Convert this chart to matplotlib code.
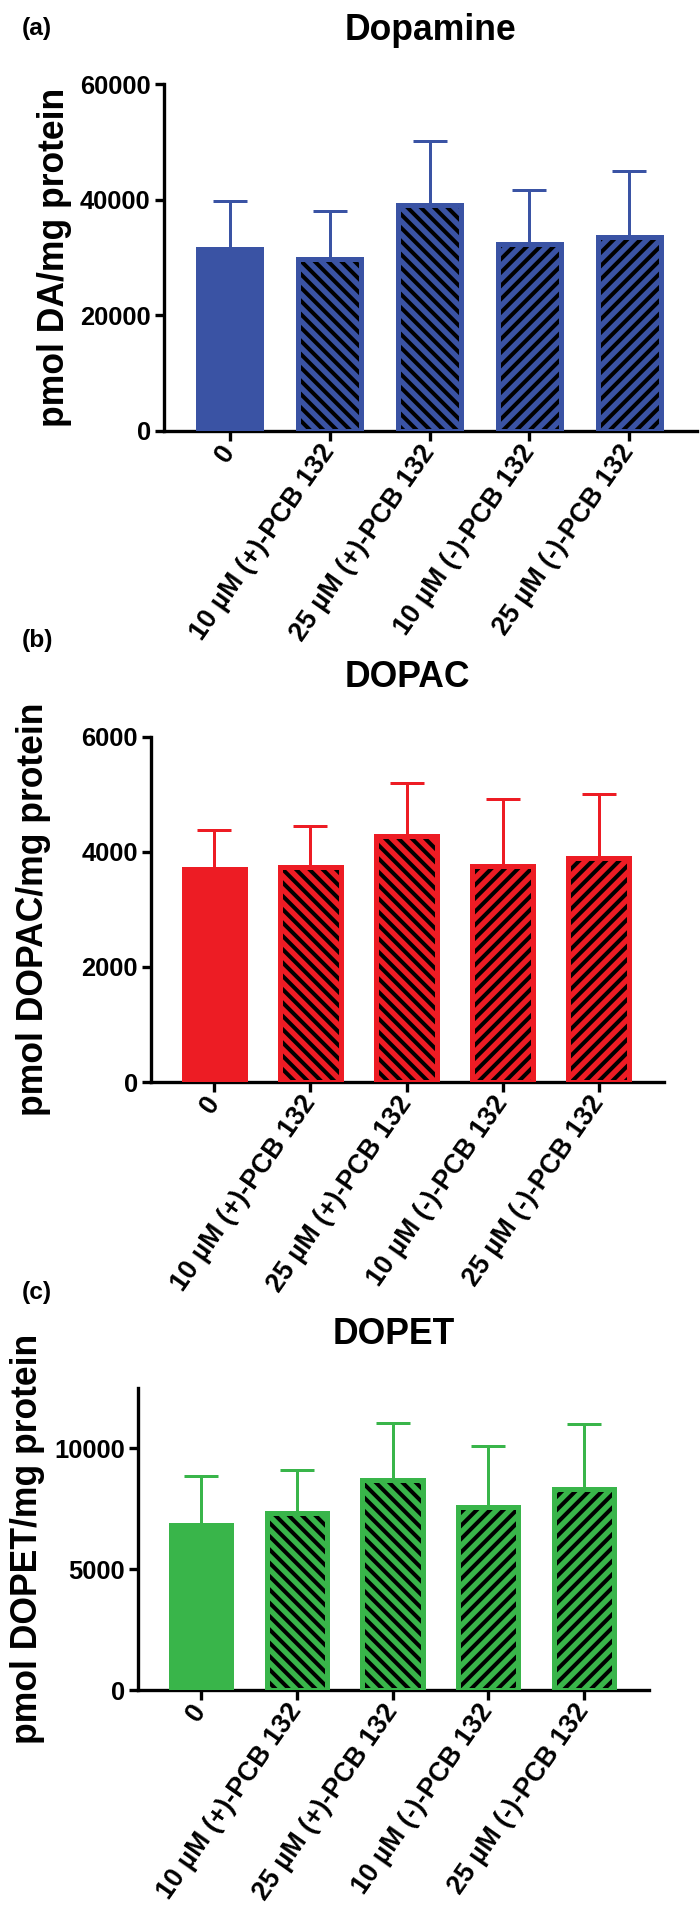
import numpy as np
import matplotlib
matplotlib.use("Agg")
import matplotlib.pyplot as plt

# groups and hatching (solid control, "\" for (+), "/" for (-))
groups = ["0", "10 \u00b5M (+)-PCB 132", "25 \u00b5M (+)-PCB 132",
          "10 \u00b5M (-)-PCB 132", "25 \u00b5M (-)-PCB 132"]
hatches = ["", "\\\\", "\\\\", "//", "//"]

# panel (a) dopamine, pmol/mg protein
da_mean = [31400, 29800, 39100, 32300, 33600]
da_err = [8350, 8200, 11000, 9350, 11300]

# panel (b) DOPAC
dopac_mean = [3710, 3745, 4285, 3755, 3890]
dopac_err = [680, 715, 915, 1175, 1120]

# panel (c) DOPET
dopet_mean = [6850, 7330, 8710, 7570, 8300]
dopet_err = [2010, 1790, 2350, 2510, 2690]

plt.rcParams["font.family"] = ["Liberation Sans", "DejaVu Sans"]
plt.rcParams["font.weight"] = "bold"
plt.rcParams["hatch.linewidth"] = 3.6

W, H = 700, 1932
DPI = 80
fig = plt.figure(figsize=(W / DPI, H / DPI), dpi=DPI)


def rect(left, right, top, bottom):
    return [left / W, 1 - bottom / H, (right - left) / W, (bottom - top) / H]


def panel(box, letter, letter_y, title, title_y, ylabel, ylabel_x,
          means, errs, color, ymax, yticks):
    ax = fig.add_axes(rect(*box))
    x = np.arange(len(groups))
    ax.errorbar(x, means, yerr=[np.zeros(len(means)), errs], fmt="none",
                ecolor=color, elinewidth=2.7, capsize=15, capthick=2.7, zorder=1)
    for i, (m, h) in enumerate(zip(means, hatches)):
        ax.bar(i, m, width=0.63, color=color,
               edgecolor="black" if h else color, linewidth=0, hatch=h, zorder=2)
        ax.bar(i, m, width=0.63, facecolor="none", edgecolor=color,
               linewidth=4.5, zorder=3)

    ax.set_xlim(-0.66, 4.68)
    ax.set_ylim(0, ymax)
    ax.set_yticks(yticks, [str(t) for t in yticks])
    ax.set_xticks(x, groups, rotation=55, ha="right", va="center",
                  rotation_mode="anchor")
    for s in ["top", "right"]:
        ax.spines[s].set_visible(False)
    for s in ["left", "bottom"]:
        ax.spines[s].set_linewidth(3)
    ax.tick_params(axis="y", width=3, length=8, pad=4, labelsize=23)
    ax.tick_params(axis="x", width=3, length=9, pad=6, labelsize=24)

    left, right, top, bottom = box
    fig.text(ylabel_x / W, 1 - (top + bottom) / 2 / H, ylabel, rotation=90,
             ha="center", va="center", fontsize=32, fontweight="bold")
    fig.text((left + right) / 2 / W, 1 - title_y / H, title,
             ha="center", va="center", fontsize=32, fontweight="bold")
    fig.text(22 / W, 1 - letter_y / H, letter, ha="left", va="center",
             fontsize=22, fontweight="bold")
    return ax


panel((164, 697, 84, 431), "(a)", 29, "Dopamine", 31, "pmol DA/mg protein", 55,
      da_mean, da_err, "#3A53A4", 60000, [0, 20000, 40000, 60000])
panel((151, 664, 737, 1082), "(b)", 640, "DOPAC", 678, "pmol DOPAC/mg protein", 34,
      dopac_mean, dopac_err, "#ED1C24", 6000, [0, 2000, 4000, 6000])
panel((138, 649, 1388, 1690), "(c)", 1292, "DOPET", 1334, "pmol DOPET/mg protein", 28,
      dopet_mean, dopet_err, "#39B54A", 12500, [0, 5000, 10000])

fig.savefig("out.png", dpi=DPI)
